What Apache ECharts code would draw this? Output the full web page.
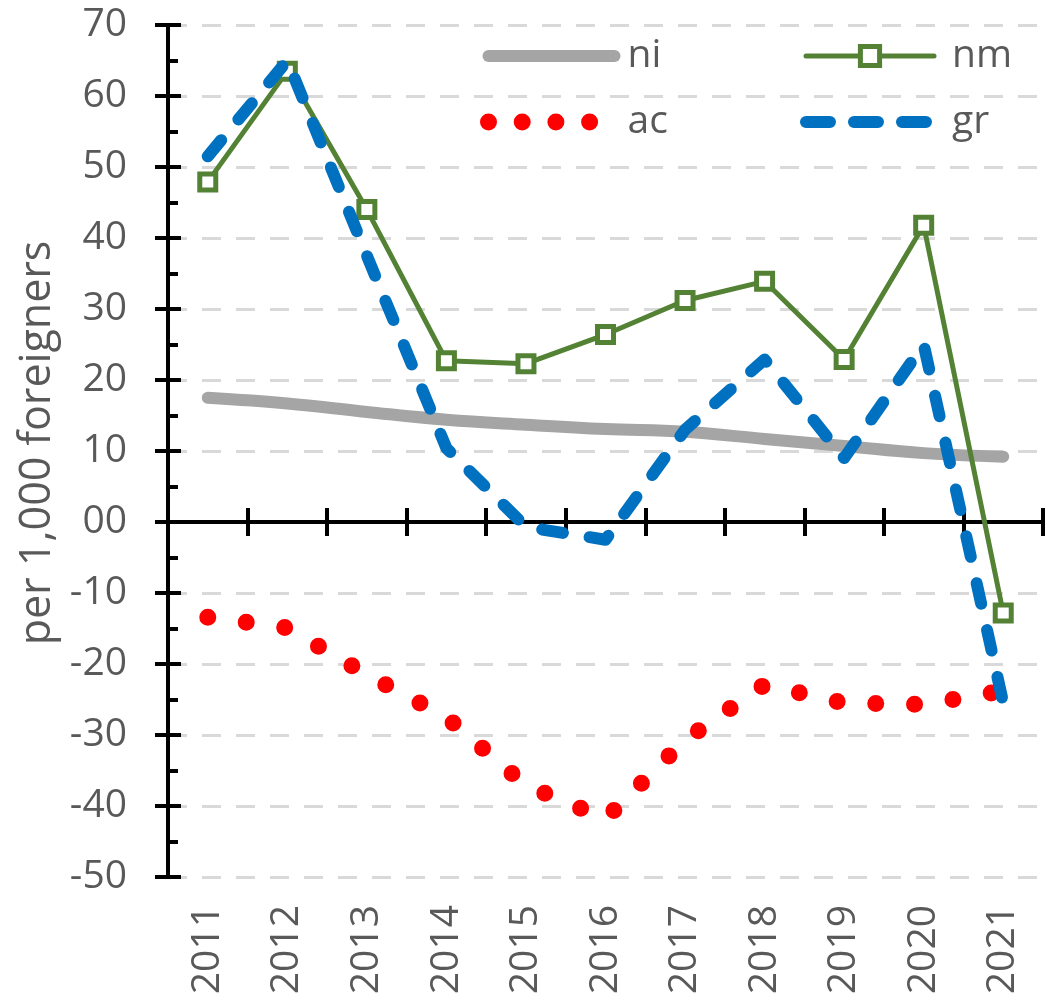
<!DOCTYPE html>
<html>
<head>
<meta charset="utf-8">
<script src="https://cdn.jsdelivr.net/npm/echarts@6/dist/echarts.min.js"></script>
<style>
html,body{margin:0;padding:0;background:#fff;}
#chart{width:1056px;height:998px;}
</style>
</head>
<body>
<div id="chart"></div>
<script>
const years = ['2011','2012','2013','2014','2015','2016','2017','2018','2019','2020','2021'];
const niValues = [17.5, 16.7, 15.5, 14.4, 13.7, 13.1, 12.7, 11.7, 10.7, 9.7, 9.2];
const nmValues = [47.9, 63.5, 44.0, 22.7, 22.3, 26.4, 31.2, 33.9, 22.9, 41.8, -12.8];
const acValues = [-13.4, -14.9, -21.5, -27.5, -37.1, -41.8, -30.7, -22.9, -25.5, -25.7, -23.8];
const grValues = [51.5, 65.0, 37.5, 10.4, -0.7, -2.5, 13.0, 22.9, 9.0, 25.0, -25.5];
const yTickLabels = ['-50','-40','-30','-20','-10','00','10','20','30','40','50','60','70'];
const yMin = -50, yMax = 70, yStep = 10;

const FONT = 'Open Sans';
const TXT = '#595959';

const chart = echarts.init(document.getElementById('chart'), null, {renderer: 'canvas'});

const yFmt = v => yTickLabels[Math.round((v - yMin) / yStep)];

const option = {
  animation: false,
  backgroundColor: '#fff',
  grid: {left: 168, right: 13, top: 25, bottom: 121, outerBoundsMode: 'none', containLabel: false},
  legend: [
    {
      orient: 'vertical', left: 480, top: 36, padding: 0, itemGap: 26,
      itemWidth: 126, itemHeight: 24, selectedMode: false,
      textStyle: {fontSize: 39, color: TXT, fontFamily: FONT, lineHeight: 40, padding: [0, 0, 0, 8]},
      data: [
        {name: 'ni', itemStyle: {opacity: 0}, lineStyle: {width: 12, cap: 'round'}},
        {name: 'ac', itemStyle: {opacity: 0}, lineStyle: {width: 17, type: [0, 33.7], cap: 'round'}}
      ]
    },
    {
      orient: 'vertical', left: 800, top: 36, padding: 0, itemGap: 26,
      itemWidth: 128, itemHeight: 24, selectedMode: false,
      textStyle: {fontSize: 39, color: TXT, fontFamily: FONT, lineHeight: 40, padding: [0, 0, 0, 13]},
      data: [
        {name: 'nm', lineStyle: {width: 5, cap: 'round'}, itemStyle: {borderWidth: 5, color: '#fff', borderColor: '#548235'}},
        {name: 'gr', itemStyle: {opacity: 0}, lineStyle: {width: 12, type: [24, 24], cap: 'round'}}
      ]
    }
  ],
  xAxis: [
    {
      type: 'category', data: years, position: 'bottom', boundaryGap: true,
      axisLine: {show: false, onZero: false}, axisTick: {show: false},
      axisLabel: {rotate: 90, margin: 28, fontSize: 39, color: TXT, fontFamily: FONT, interval: 0},
      splitLine: {show: false}
    },
    {
      type: 'category', data: years, position: 'bottom', boundaryGap: true,
      axisLine: {show: true, onZero: true, onZeroAxisIndex: 0, lineStyle: {color: '#000', width: 4}},
      axisTick: {show: true, inside: false, length: 14, interval: 0, lineStyle: {color: '#000', width: 4}},
      axisLabel: {show: false}, splitLine: {show: false}
    },
    {
      type: 'category', data: years, position: 'bottom', boundaryGap: true,
      axisLine: {show: false, onZero: true, onZeroAxisIndex: 0},
      axisTick: {show: true, inside: true, length: 14, interval: 0, lineStyle: {color: '#000', width: 4}},
      axisLabel: {show: false}, splitLine: {show: false}
    }
  ],
  yAxis: [
    {
      type: 'value', position: 'left', min: yMin, max: yMax, interval: yStep,
      name: 'per 1,000 foreigners', nameLocation: 'middle', nameGap: 99,
      nameTextStyle: {fontSize: 43, color: TXT, fontFamily: FONT, padding: [0, 0, 0, 16]},
      axisLine: {show: true, onZero: false, lineStyle: {color: '#000', width: 4}},
      axisTick: {show: true, inside: false, length: 13, lineStyle: {color: '#000', width: 4}},
      axisLabel: {margin: 41, fontSize: 39, color: TXT, fontFamily: FONT, formatter: yFmt},
      splitLine: {show: true, lineStyle: {color: '#d9d9d9', width: 3, type: [19, 15]}}
    },
    {
      type: 'value', position: 'left', min: yMin, max: yMax, interval: yStep,
      axisLine: {show: false, onZero: false},
      axisTick: {show: true, inside: true, length: 13, lineStyle: {color: '#000', width: 4}},
      minorTick: {show: true, splitNumber: 2, length: 10, lineStyle: {color: '#000', width: 4}},
      axisLabel: {show: false}, splitLine: {show: false}
    }
  ],
  series: [
    {
      name: 'ni', type: 'line', data: niValues, smooth: 0.4, symbol: 'none',
      lineStyle: {color: '#a5a5a5', width: 12, cap: 'round', join: 'round'},
      itemStyle: {color: '#a5a5a5'}, emphasis: {disabled: true}, z: 2
    },
    {
      name: 'nm', type: 'line', data: nmValues, symbol: 'rect', symbolSize: 16,
      lineStyle: {color: '#548235', width: 5, cap: 'round', join: 'round'},
      itemStyle: {color: '#fff', borderColor: '#548235', borderWidth: 5},
      emphasis: {disabled: true}, z: 3
    },
    {
      name: 'ac', type: 'line', data: acValues, symbol: 'none',
      lineStyle: {color: '#ff0000', width: 17, type: [0, 38.8], cap: 'round', join: 'round'},
      itemStyle: {color: '#ff0000'}, emphasis: {disabled: true}, z: 4
    },
    {
      name: 'gr', type: 'line', data: grValues, symbol: 'none',
      lineStyle: {color: '#0070c0', width: 12, type: [21, 27], cap: 'round', join: 'round'},
      itemStyle: {color: '#0070c0'}, emphasis: {disabled: true}, z: 5
    }
  ]
};
chart.setOption(option);
</script>
</body>
</html>
